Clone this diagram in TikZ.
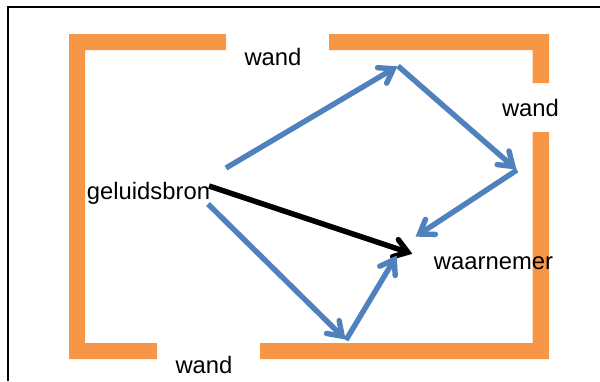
\documentclass[tikz,border=0pt]{standalone}
\usepackage{fontspec}
\setmainfont{Liberation Sans}
\usetikzlibrary{arrows.meta}
\definecolor{wallc}{HTML}{F79646}
\definecolor{rayc}{HTML}{4F81BD}
\pgfdeclarearrow{
  name=OpenVee,
  setup code={
    \pgfarrowssettipend{0pt}
    \pgfarrowssetlineend{-6pt}
    \pgfarrowssetbackend{-20pt}
    \pgfarrowssetvisualbackend{-6pt}
  },
  drawing code={
    \pgfsetdash{}{0pt}
    \pgfsetroundcap
    \pgfsetmiterjoin
    \pgfpathmoveto{\pgfqpoint{-18.5pt}{9pt}}
    \pgfpathlineto{\pgfqpoint{-5.4pt}{0pt}}
    \pgfpathlineto{\pgfqpoint{-18.5pt}{-9pt}}
    \pgfusepathqstroke
  }
}
\tikzset{
  wall/.style={fill=wallc,draw=none},
  lab/.style={inner sep=0pt,font=\fontsize{23.8}{26}\selectfont,text=black},
  ray/.style={draw=rayc,line width=5.4pt,-OpenVee},
  direct/.style={draw=black,line width=5.4pt,-OpenVee},
}
\begin{document}
\begin{tikzpicture}[x=1pt,y=-1pt]
\useasboundingbox (0,0) rectangle (600,381);
\draw[black,line width=1.8pt] (8,381) -- (8,7) -- (600,7);
\fill[wall] (226,34) -- (69,34) -- (69,359) -- (157,359) -- (157,343) -- (85,343) -- (85,50) -- (226,50) -- cycle;
\fill[wall] (329,34) -- (549,34) -- (549,83) -- (532.5,83) -- (532.5,50) -- (329,50) -- cycle;
\fill[wall] (532.5,132) -- (549,132) -- (549,359) -- (260,359) -- (260,343) -- (532.5,343) -- cycle;
\coordinate (s1) at (226,168);
\coordinate (p1) at (398,66);
\coordinate (p2) at (517,170);
\coordinate (e1) at (415,237);
\coordinate (s2) at (208,204);
\coordinate (p3) at (346,340);
\coordinate (e2) at (397,255);
\coordinate (s3) at (209,186);
\coordinate (e3) at (413,254);
\draw[ray] (s1) -- (p1);
\draw[ray] (p1) -- (p2);
\draw[ray] (p2) -- (e1);
\draw[ray] (s2) -- (p3);
\draw[direct] (s3) -- (e3);
\draw[ray] (p3) -- (e2);
\node[lab] (w1) at (273,56.5) {wand};
\node[lab] (w2) at (530.5,107.5) {wand};
\node[lab] (w3) at (204,364.5) {wand};
\node[lab] (src) at (148.5,193) {geluidsbron};
\node[lab] (obs) at (493.5,263) {waarnemer};
\end{tikzpicture}
\end{document}
